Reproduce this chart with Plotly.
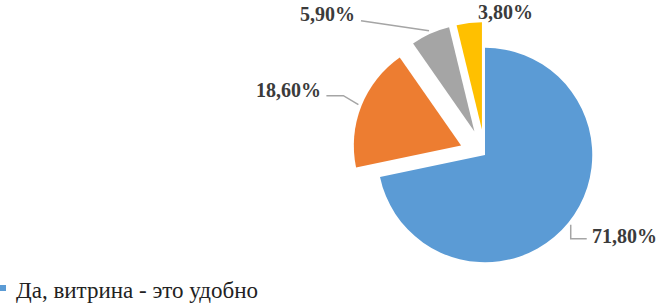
import math
import plotly.graph_objects as go

# ---- data ----
categories = ["Да, витрина - это удобно", "Вариант 2", "Вариант 3", "Вариант 4"]
values = [71.8, 18.6, 5.9, 3.8]
colors = ["#5B9BD5", "#ED7D31", "#A5A5A5", "#FFC000"]
pulls = [0.0, 0.24, 0.24, 0.24]

# ---- layout / style constants (pixels) ----
W, H = 662, 305
CX, CY = 485, 155          # pie centre
BOX = 266                  # pie domain box side
R = BOX / (2 * (1 + max(pulls)))
ANCHOR_K = 1.03
FONT = "Liberation Serif"
TXT = "#3b3b3b"
LINE = "#A5A5A5"

# leader line paths and label placement relative to each slice's anchor
leader_paths = [
    [(0, 0), (0, 14), (16, 14)],
    [(0, 0), (-15, -9), (-32, -9)],
    [(0, 0), (-68, -10)],
    [],
]
label_offsets = [(19, 11, "left"), (-35, -15, "right"), (-72, -17, "right"), (37, -8, "center")]


def px(x):
    return x / W


def py(y):
    return 1 - y / H


fig = go.Figure(
    go.Pie(
        labels=categories,
        values=values,
        marker=dict(colors=colors, line=dict(width=0)),
        pull=pulls,
        sort=False,
        direction="clockwise",
        rotation=0,
        textinfo="none",
        hoverinfo="label+percent",
        domain=dict(
            x=[px(CX - BOX / 2), px(CX + BOX / 2)],
            y=[py(CY + BOX / 2), py(CY - BOX / 2)],
        ),
        showlegend=False,
    )
)

total = sum(values)
cum = 0.0
shapes = []
annotations = []
for i, v in enumerate(values):
    a = math.radians(360 * (cum + v / 2) / total)
    cum += v
    dx, dy = math.sin(a), -math.cos(a)
    scx = CX + pulls[i] * R * dx
    scy = CY + pulls[i] * R * dy
    ax = scx + R * ANCHOR_K * dx
    ay = scy + R * ANCHOR_K * dy
    path = leader_paths[i]
    if path:
        d = " ".join(
            ("M" if j == 0 else "L") + f" {px(ax + ox):.5f},{py(ay + oy):.5f}"
            for j, (ox, oy) in enumerate(path)
        )
        shapes.append(dict(type="path", xref="paper", yref="paper", path=d,
                           line=dict(color=LINE, width=1.5)))
    ox, oy, al = label_offsets[i]
    annotations.append(dict(
        x=px(ax + ox), y=py(ay + oy), xref="paper", yref="paper",
        text="<b>" + f"{v:.2f}%".replace(".", ",") + "</b>",
        showarrow=False, xanchor=al, yanchor="middle",
        font=dict(family=FONT, size=20, color=TXT),
    ))

# legend entry (first category, rest of legend lies below the visible area)
shapes.append(dict(type="rect", xref="paper", yref="paper",
                   x0=px(0), x1=px(6), y0=py(291), y1=py(285),
                   fillcolor=colors[0], line=dict(width=0)))
annotations.append(dict(
    x=px(14), y=py(290), xref="paper", yref="paper",
    text=categories[0], showarrow=False, xanchor="left", yanchor="middle",
    font=dict(family=FONT, size=23, color="#222222"),
))

fig.update_layout(
    width=W, height=H,
    margin=dict(l=0, r=0, t=0, b=0),
    paper_bgcolor="white", plot_bgcolor="white",
    shapes=shapes, annotations=annotations,
)

fig.write_html("out.html", config={"displayModeBar": False},
               post_script="document.body.style.margin='0';")
